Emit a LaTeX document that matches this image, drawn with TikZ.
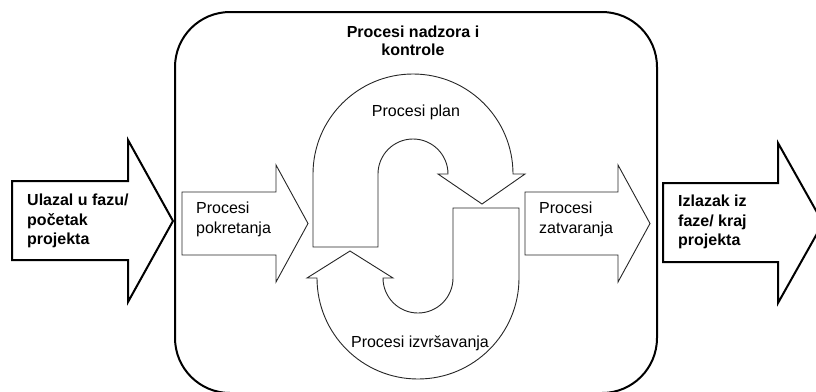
\documentclass[tikz,border=0pt]{standalone}
\usepackage{fontspec}
\setmainfont{Liberation Sans}
\begin{document}
\begin{tikzpicture}[x=1pt,y=1pt,
  thick shape/.style={draw=black,line width=2pt,line join=miter,fill=white},
  thin shape/.style={draw=black!85,line width=0.9pt,line join=miter,fill=white},
  boldtext/.style={font=\fontsize{16}{19.5}\selectfont\bfseries,align=left,inner sep=0pt,anchor=west},
  plaintext/.style={font=\fontsize{16}{20}\selectfont,align=left,inner sep=0pt,anchor=west},
  centertext/.style={font=\fontsize{16}{18}\selectfont,align=center,inner sep=0pt}]
\useasboundingbox (0,0) rectangle (816,-391);
\clip (0,0) rectangle (816,-391);
% control frame
\draw[line width=2pt,rounded corners=55pt] (175,-12) rectangle (657,-393);
% big input arrow
\draw[thick shape] (12,-181) -- (128,-181) -- (128,-140) -- (173,-221) -- (128,-302) -- (128,-260) -- (12,-260) -- cycle;
% big output arrow
\draw[thick shape] (663,-183) -- (778,-183) -- (778,-143) -- (823,-223) -- (778,-303) -- (778,-262) -- (663,-262) -- cycle;
% initiating arrow
\draw[thin shape] (182,-192) -- (276,-192) -- (276,-165) -- (308,-223.5) -- (276,-282) -- (276,-255) -- (182,-255) -- cycle;
% closing arrow
\draw[thin shape] (525,-192) -- (618,-192) -- (618,-165) -- (650,-223.5) -- (618,-282) -- (618,-255) -- (525,-255) -- cycle;
% planning U-arrow
\draw[thin shape] (313,-247) -- (313,-174) arc[start angle=180,end angle=0,radius=100] -- (525,-174) -- (482,-204) -- (438,-174) -- (448,-174) arc[start angle=0,end angle=180,radius=35] -- (378,-247) -- cycle;
% executing U-arrow
\draw[thin shape] (453,-208) -- (519,-208) -- (519,-278) arc[start angle=0,end angle=-180,radius=101] -- (307,-278) -- (350,-251) -- (393,-278) -- (383,-278) arc[start angle=180,end angle=360,radius=35] -- cycle;
% texts
\node[centertext,font=\fontsize{16}{18}\selectfont\bfseries] (title) at (413,-41) {Procesi nadzora i\\kontrole};
\node[centertext] (plan) at (416,-112) {Procesi plan};
\node[centertext] (izvr) at (420,-343) {Procesi izvršavanja};
\node[plaintext] (pokr) at (196,-219) {Procesi\\pokretanja};
\node[plaintext] (zatv) at (539,-219) {Procesi\\zatvaranja};
\node[boldtext] (ulaz) at (27,-221) {Ulazal u fazu/\\početak\\projekta};
\node[boldtext] (izlaz) at (678,-222) {Izlazak iz\\faze/ kraj\\projekta};
\end{tikzpicture}
\end{document}
